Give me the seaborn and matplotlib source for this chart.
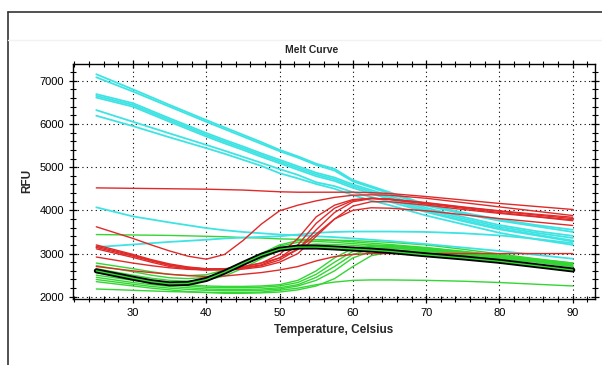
import matplotlib
matplotlib.use("Agg")
import matplotlib.pyplot as plt
import seaborn as sns
from matplotlib.ticker import MultipleLocator
from matplotlib.lines import Line2D

# Melt curve readings (RFU)
# cyan curves are nearly straight, read on a coarser grid
temps_cyan = [25, 30, 35, 40, 42.5, 45, 47.5, 50, 52.5, 55, 57.5, 60, 62.5, 65, 70, 75, 80, 85, 90]
temps = [25, 30, 32.5, 35, 37.5, 40, 42.5, 45, 47.5, 50, 52.5, 55, 57.5, 60, 62.5, 65, 70, 75, 80, 85, 90]

cyan_curves = [
    [7150, 6800, 6440, 6090, 5920, 5750, 5580, 5400, 5250, 5080, 4960, 4700, 4560, 4420, 4140, 3950, 3790, 3660, 3550],
    [7080, 6750, 6400, 6050, 5880, 5710, 5540, 5370, 5220, 5050, 4920, 4670, 4530, 4390, 4110, 3920, 3760, 3630, 3500],
    [6690, 6480, 6130, 5790, 5630, 5480, 5320, 5170, 5020, 4870, 4760, 4600, 4470, 4340, 4060, 3850, 3660, 3520, 3410],
    [6650, 6440, 6090, 5750, 5590, 5440, 5280, 5130, 4980, 4830, 4720, 4560, 4430, 4300, 4020, 3810, 3620, 3480, 3360],
    [6610, 6400, 6050, 5710, 5550, 5400, 5240, 5090, 4940, 4790, 4680, 4520, 4390, 4260, 3980, 3770, 3580, 3440, 3300],
    [6320, 6050, 5780, 5515, 5380, 5240, 5100, 4955, 4820, 4650, 4560, 4420, 4310, 4200, 3960, 3750, 3560, 3420, 3280],
    [6190, 5950, 5690, 5440, 5310, 5170, 5030, 4860, 4740, 4610, 4500, 4350, 4230, 4120, 3880, 3680, 3480, 3330, 3200],
    [4070, 3860, 3720, 3590, 3540, 3500, 3470, 3440, 3420, 3400, 3380, 3350, 3320, 3290, 3220, 3140, 3060, 2970, 2880],
    [3150, 3210, 3270, 3320, 3350, 3370, 3385, 3400, 3440, 3480, 3500, 3510, 3510, 3510, 3500, 3470, 3420, 3340, 3240],
]

red_curves = [
    [4520, 4510, 4505, 4500, 4495, 4490, 4480, 4470, 4450, 4430, 4420, 4420, 4420, 4420, 4410, 4390, 4320, 4240, 4160, 4090, 4020],
    [3620, 3350, 3200, 3060, 2940, 2870, 2980, 3300, 3680, 3990, 4120, 4220, 4300, 4350, 4360, 4350, 4280, 4180, 4080, 3980, 3880],
    [3200, 2980, 2860, 2760, 2690, 2650, 2640, 2660, 2720, 2850, 3100, 3550, 3950, 4200, 4270, 4260, 4180, 4080, 3990, 3910, 3840],
    [3170, 2960, 2840, 2740, 2680, 2640, 2640, 2670, 2740, 2900, 3200, 3700, 4050, 4230, 4280, 4260, 4170, 4070, 3980, 3890, 3810],
    [3140, 2940, 2830, 2730, 2670, 2640, 2650, 2690, 2780, 2980, 3350, 3850, 4120, 4250, 4280, 4250, 4150, 4050, 3950, 3860, 3780],
    [3110, 2910, 2800, 2700, 2650, 2620, 2620, 2640, 2690, 2800, 3000, 3400, 3800, 4100, 4200, 4200, 4120, 4020, 3930, 3850, 3760],
    [2920, 2780, 2720, 2670, 2635, 2620, 2640, 2700, 2780, 2900, 3100, 3450, 3800, 4000, 4060, 4050, 3990, 3900, 3810, 3730, 3650],
    [2700, 2600, 2560, 2520, 2490, 2470, 2480, 2520, 2560, 2620, 2700, 2830, 2930, 2980, 3000, 3000, 3000, 3000, 3000, 3000, 3000],
]

green_curves = [
    [3440, 3430, 3425, 3420, 3410, 3400, 3390, 3370, 3360, 3340, 3330, 3320, 3310, 3300, 3280, 3260, 3200, 3100, 2990, 2880, 2780],
    [2780, 2650, 2580, 2520, 2490, 2510, 2620, 2790, 3000, 3200, 3300, 3320, 3300, 3270, 3240, 3210, 3140, 3050, 2950, 2850, 2750],
    [2720, 2580, 2500, 2440, 2420, 2450, 2570, 2760, 2980, 3170, 3260, 3280, 3260, 3230, 3200, 3170, 3100, 3010, 2920, 2820, 2720],
    [2650, 2500, 2430, 2380, 2360, 2390, 2480, 2660, 2880, 3080, 3190, 3220, 3210, 3190, 3160, 3140, 3070, 2990, 2900, 2810, 2700],
    [2560, 2420, 2360, 2320, 2280, 2250, 2240, 2240, 2250, 2280, 2380, 2600, 2900, 3120, 3190, 3190, 3130, 3050, 2960, 2870, 2780],
    [2500, 2380, 2330, 2280, 2250, 2220, 2210, 2210, 2220, 2250, 2330, 2520, 2800, 3050, 3150, 3160, 3110, 3030, 2950, 2860, 2760],
    [2450, 2330, 2280, 2240, 2210, 2180, 2170, 2170, 2180, 2210, 2280, 2450, 2700, 2980, 3100, 3120, 3080, 3000, 2920, 2840, 2740],
    [2400, 2290, 2240, 2200, 2170, 2150, 2140, 2140, 2150, 2180, 2250, 2380, 2600, 2900, 3050, 3080, 3050, 2980, 2900, 2820, 2720],
    [2350, 2250, 2200, 2160, 2120, 2100, 2080, 2080, 2090, 2110, 2160, 2250, 2420, 2700, 2950, 3030, 3020, 2960, 2880, 2800, 2700],
    [2180, 2150, 2135, 2120, 2110, 2100, 2100, 2100, 2110, 2150, 2200, 2280, 2340, 2380, 2390, 2390, 2380, 2360, 2330, 2290, 2250],
]

black_curve = [2600, 2430, 2350, 2300, 2310, 2400, 2570, 2770, 2960, 3100, 3150, 3150, 3130, 3105, 3080, 3050, 2970, 2900, 2820, 2720, 2620]

sns.set_style("ticks")
plt.rcParams['font.family'] = ['Liberation Sans', 'DejaVu Sans']

fig = plt.figure(figsize=(6.02, 3.65), dpi=100)
ax = fig.add_axes([0.121, 0.181, 0.867, 0.644])

for vals in green_curves:
    sns.lineplot(x=temps, y=vals, color="#33d633", lw=1.0, ax=ax)
for vals in cyan_curves:
    sns.lineplot(x=temps_cyan, y=vals, color="#3ee3e3", lw=1.3, ax=ax)
for vals in red_curves:
    sns.lineplot(x=temps, y=vals, color="#e02a2a", lw=1.0, ax=ax)
sns.lineplot(x=temps, y=black_curve, color="black", lw=3.6, ax=ax)
sns.lineplot(x=temps, y=black_curve, color="#33d633", lw=1.0, ax=ax)

ax.set_xlim(21.8, 93)
ax.set_ylim(1950, 7390)
ax.xaxis.set_major_locator(MultipleLocator(10))
ax.xaxis.set_minor_locator(MultipleLocator(2))
ax.yaxis.set_major_locator(MultipleLocator(1000))
ax.yaxis.set_minor_locator(MultipleLocator(200))
ax.tick_params(which="both", direction="inout", top=True, right=True,
               labelsize=8, colors="black")
ax.tick_params(which="major", length=6, width=0.9)
ax.tick_params(which="minor", length=4, width=0.8)
ax.grid(True, which="major", color="black", linestyle=(0, (1, 3)), linewidth=0.8)
for s in ax.spines.values():
    s.set_color("black")
    s.set_linewidth(1.0)

# title is centred on the window, not on the plot area
fig.text(312 / 602, 1 - 50 / 365, "Melt Curve", fontsize=7.5, fontweight="bold",
         ha="center", va="center")
ax.set_xlabel("Temperature, Celsius", fontsize=8.5, fontweight="bold", labelpad=4)
ax.set_ylabel("RFU", fontsize=8.5, fontweight="bold", labelpad=4)

# outer frame of the window
fig.add_artist(Line2D([8 / 602, 8 / 602], [0, 1 - 12 / 365], color="#333333", lw=1.2))
fig.add_artist(Line2D([8 / 602, 1], [1 - 12 / 365, 1 - 12 / 365], color="#333333", lw=1.2))
fig.add_artist(Line2D([8 / 602, 1], [1 - 40 / 365, 1 - 40 / 365], color="#f2f2f2", lw=1.0))

fig.savefig("out.png", dpi=100, facecolor="white")
